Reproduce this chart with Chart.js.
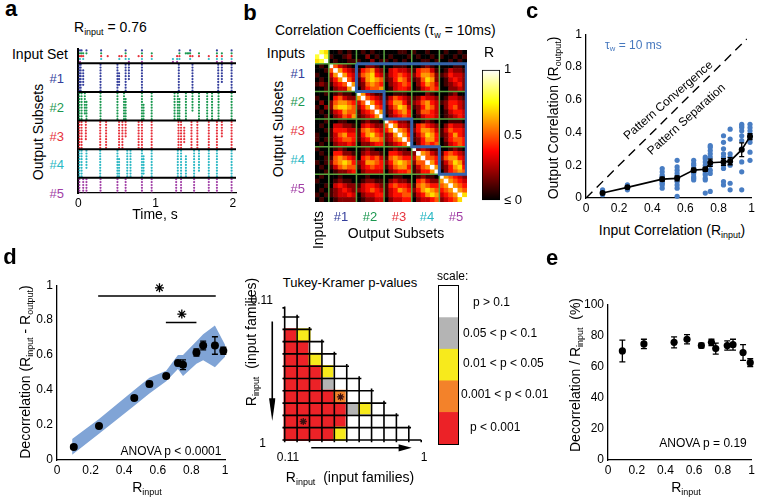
<!DOCTYPE html>
<html>
<head>
<meta charset="utf-8">
<script src="https://cdn.jsdelivr.net/npm/chart.js@4.4.1/dist/chart.umd.min.js"></script>
<style>
body { margin: 0; background: #fff; }
#fig { position: relative; width: 758px; height: 502px; overflow: hidden; background: #fff;
       font-family: "Liberation Sans", Arial, sans-serif; color: #000; }
canvas { position: absolute; }
.t { position: absolute; white-space: nowrap; line-height: 1; }
.t sub { font-size: 0.64em; position: relative; top: 0.3em; vertical-align: baseline; line-height: 0; }
</style>
</head>
<body>
<div id="fig"></div>
<script>
// ---------- data ----------
const rInput = [0.1, 0.25, 0.46, 0.55, 0.65, 0.72, 0.75, 0.83, 0.87, 0.94, 0.99];

// panel c
const rOutputMean = [0.03, 0.065, 0.115, 0.12, 0.17, 0.175, 0.215, 0.22, 0.225, 0.295, 0.375];
const rOutputSem = [0.008, 0.008, 0.012, 0.015, 0.012, 0.012, 0.022, 0.02, 0.022, 0.042, 0.018];
const rOutputSamples = [
   [0.02, 0.03, 0.04, 0.05],
   [0.05, 0.06, 0.07, 0.08],
   [0.06, 0.08, 0.09, 0.10, 0.11, 0.12, 0.13, 0.14, 0.16, 0.18],
   [0.01, 0.06, 0.08, 0.10, 0.12, 0.13, 0.15, 0.17, 0.19, 0.23],
   [0.11, 0.12, 0.13, 0.15, 0.16, 0.17, 0.18, 0.20, 0.21, 0.23],
   [0.03, 0.11, 0.12, 0.14, 0.15, 0.17, 0.18, 0.20, 0.22, 0.24, 0.25],
   [0.04, 0.15, 0.17, 0.20, 0.22, 0.25, 0.27, 0.29, 0.31, 0.32],
   [0.08, 0.10, 0.18, 0.20, 0.23, 0.25, 0.27, 0.30, 0.34, 0.38],
   [0.05, 0.09, 0.20, 0.22, 0.25, 0.27, 0.36, 0.42],
   [0.05, 0.16, 0.22, 0.30, 0.35, 0.38, 0.41, 0.43, 0.44, 0.45],
   [0.23, 0.28, 0.34, 0.36, 0.38, 0.39, 0.41, 0.43, 0.45]
];
const diagonalLine = [{ x: 0, y: 0 }, { x: 0.97, y: 0.97 }];

// panel d
const decorrMean = [0.075, 0.195, 0.355, 0.435, 0.48, 0.555, 0.545, 0.615, 0.655, 0.655, 0.625];
const decorrSem = [0.01, 0.008, 0.012, 0.015, 0.01, 0.015, 0.028, 0.02, 0.025, 0.05, 0.02];
const bandX = [0.09, 0.25, 0.46, 0.55, 0.65, 0.72, 0.75, 0.83, 0.87, 0.94, 1.0];
const bandUpper = [0.12, 0.235, 0.40, 0.47, 0.51, 0.60, 0.60, 0.68, 0.72, 0.77, 0.66];
const bandLower = [0.03, 0.15, 0.31, 0.38, 0.45, 0.52, 0.48, 0.55, 0.57, 0.53, 0.59];
const sigBars = [[0.245, 0.945, 0.938], [0.648, 0.83, 0.787]];
const sigStars = [[0.61, 0.985], [0.743, 0.835]];

// panel e
const normMean = [70, 74.5, 75.5, 77.5, 73.5, 75.5, 71.5, 73.5, 74, 69, 62.5];
const normSem = [7, 3, 3.5, 3, 1.5, 2, 3.5, 3, 3.5, 5, 2.5];

// panel a: spike columns [time s, first neuron, last neuron]
const spikeInputSet = [[0.021,0,4],[0.042,0,2],[0.063,1,3],[0.105,0,1],[0.295,0,3],[0.38,2,2],[0.53,2,3],[0.56,2,2],
   [0.612,0,3],[0.654,3,4],[0.78,2,2],[0.823,0,4],[0.95,1,3],[1.224,3,4],[1.278,2,4],[1.308,0,3],[1.39,1,1],[1.41,1,1],
   [1.43,1,1],[1.447,0,3],[1.477,2,2],[1.561,1,2],[1.688,2,3],[1.793,0,4],[1.857,1,4],[1.983,0,4]];
const spikeSubset1 = [[0.013,0,9],[0.03,0,9],[0.063,2,7],[0.287,0,9],[0.506,0,9],[0.527,3,7],[0.612,0,9],[0.654,0,5],
   [0.823,0,9],[1.30,0,9],[1.477,0,9],[1.81,0,9],[1.857,0,6],[1.983,0,9]];
const spikeSubset2 = [[0.013,0,9],[0.042,0,9],[0.084,0,7],[0.105,3,9],[0.287,0,9],[0.506,0,9],[0.591,0,9],[0.612,2,9],
   [0.823,0,9],[0.844,4,9],[0.949,0,9],[1.245,0,9],[1.287,0,9],[1.308,2,9],[1.392,0,9],[1.477,0,6],[1.561,0,9],
   [1.667,0,9],[1.73,0,9],[1.814,0,9],[1.983,0,9]];
const spikeSubset3 = [[0.013,0,9],[0.042,0,9],[0.097,0,6],[0.283,0,9],[0.359,0,9],[0.527,0,9],[0.57,0,9],[0.612,0,5],
   [0.78,0,9],[0.823,0,9],[0.949,0,9],[1.296,0,9],[1.329,0,9],[1.37,2,7],[1.464,0,9],[1.54,0,9],[1.688,0,9],
   [1.793,0,9],[1.857,0,5],[1.983,0,9]];
const spikeSubset4 = [[0.013,0,9],[0.042,0,9],[0.105,0,6],[0.283,0,9],[0.506,0,9],[0.527,3,9],[0.633,0,9],[0.675,0,9],
   [0.823,0,9],[0.844,2,8],[0.949,0,9],[1.287,0,9],[1.329,0,9],[1.392,2,9],[1.498,0,9],[1.561,0,7],[1.688,0,9],
   [1.793,0,9],[1.983,0,9]];
const spikeSubset5 = [[0.013,0,5],[0.063,0,5],[0.105,0,5],[0.287,0,5],[0.506,0,5],[0.612,0,5],[0.823,0,5],[0.949,0,5],
   [1.266,0,5],[1.329,0,5],[1.498,0,5],[1.688,0,5],[1.793,0,5],[1.983,0,5]];
const subsetColors = ['#343e9c', '#1b9850', '#e6313b', '#2bb8c4', '#a13ea6'];

// panel b: correlation blocks, one digit = R x 10, 'a' = 1
const heatInputBlock = ['a87', '8a8', '78a'];
const heatInputVsSubsets = [
   ['001010', '100120', '010011'],
   ['010100', '002010', '100201'],
   ['000110', '010001', '101010'],
   ['100100', '010010', '001101'],
   ['010010', '100101', '001010']
];
const heatSubsetDiag = [
   ['a53210', '5a6432', '36a643', '246a53', '1345a6', '02336a'],
   ['a63211', '6a5432', '35a643', '246a54', '1345a6', '12346a'],
   ['a54221', '5a6332', '46a653', '236a64', '2356a5', '12345a'],
   ['a23211', '2a6532', '36a554', '255a64', '1356a6', '12446a'],
   ['a65432', '6a6543', '56a654', '456a65', '3456a7', '23457a']
];
const heatSubsetCross = {
   '1-2': ['002210', '145632', '256743', '136765', '125654', '024556'],
   '1-3': ['001110', '034332', '134543', '124653', '023454', '013443'],
   '1-4': ['001210', '145531', '246652', '125762', '024653', '013454'],
   '1-5': ['000110', '013221', '124332', '013432', '012342', '002232'],
   '2-3': ['001110', '135432', '246642', '135763', '124564', '023454'],
   '2-4': ['000210', '124332', '235643', '124653', '025543', '013443'],
   '2-5': ['001200', '013321', '124432', '024532', '013443', '012343'],
   '3-4': ['001210', '145432', '246653', '135764', '124664', '024545'],
   '3-5': ['001110', '024332', '135443', '124643', '024554', '013454'],
   '4-5': ['001210', '145432', '256643', '135763', '124674', '024565']
};
const colorbarTicks = [0, 0.5, 1];
const colorbarLabels = ['≤ 0', '0.5', '1'];

// Tukey-Kramer matrix: W p>0.1, G 0.05-0.1, Y 0.01-0.05, O 0.001-0.01, R p<0.001
const tukeyRows = ['W', 'RY', 'RRW', 'RRYW', 'RRRYW', 'RRRGWW', 'RRRROWW', 'RRRRRGYW', 'RRRRRWWWW', 'RRRRYWWWWW'];
const tukeyStars = [[6, 4], [8, 1]];
const tukeyLegend = ['p > 0.1', '0.05 < p < 0.1', '0.01 < p < 0.05', '0.001 < p < 0.01', 'p < 0.001'];
const tukeyColors = { W: '#ffffff', G: '#b4b4b4', Y: '#f7ea1c', O: '#f3822a', R: '#ec2227' };

// ---------- helpers ----------
Chart.defaults.font.family = '"Liberation Sans", Arial, sans-serif';
Chart.defaults.font.size = 12;
Chart.defaults.color = '#000';
Chart.defaults.animation = false;
Chart.defaults.events = [];
Chart.defaults.plugins.legend.display = false;
Chart.defaults.plugins.tooltip.enabled = false;

const fig = document.getElementById('fig');

function label(html, x, y, size, o = {}) {
   const d = document.createElement('div');
   d.className = 't';
   d.innerHTML = html;
   d.style.left = x + 'px';
   d.style.top = y + 'px';
   d.style.fontSize = size + 'px';
   if (o.color) d.style.color = o.color;
   if (o.bold) d.style.fontWeight = 'bold';
   const ax = o.align === 'left' ? '0%' : o.align === 'right' ? '-100%' : '-50%';
   d.style.transform = 'translate(' + ax + ',-50%)' + (o.rot ? ' rotate(' + o.rot + 'deg)' : '');
   fig.appendChild(d);
}

function place(L, T, R, B, ml, mt, mr, mb) {
   const left = Math.round(L - ml), top = Math.round(T - mt);
   const w = Math.round(R + mr) - left, h = Math.round(B + mb) - top;
   const c = document.createElement('canvas');
   c.width = w; c.height = h;
   c.style.cssText = 'left:' + left + 'px;top:' + top + 'px;width:' + w + 'px;height:' + h + 'px';
   fig.appendChild(c);
   return c;
}

const tickText = v => String(Math.round(v * 100) / 100);

function axisX(min, max, step, h) {
   return {
      type: 'linear', min: min, max: max,
      ticks: { stepSize: step, padding: 3, maxRotation: 0, autoSkip: false, includeBounds: false, callback: tickText },
      grid: { display: false, drawTicks: false },
      border: { color: '#000', width: 1.3 },
      afterFit: s => { s.height = h; }
   };
}

function axisY(min, max, step, w) {
   return {
      type: 'linear', min: min, max: max,
      ticks: { stepSize: step, padding: 4, autoSkip: false, includeBounds: false, callback: tickText },
      grid: { display: false, drawTicks: false },
      border: { color: '#000', width: 1.3 },
      afterFit: s => { s.width = w; }
   };
}

function seg(arr, x1, y1, x2, y2) {
   arr.push({ x: x1, y: y1 }, { x: x2, y: y2 }, { x: x2, y: null });
}

const errorBars = {
   id: 'errorBars',
   afterDatasetsDraw(chart) {
      const ctx = chart.ctx, sx = chart.scales.x, sy = chart.scales.y;
      chart.data.datasets.forEach(ds => {
         if (!ds.errors) return;
         ctx.save();
         ctx.strokeStyle = '#000';
         ctx.lineWidth = 1.3;
         ds.data.forEach((p, k) => {
            const px = sx.getPixelForValue(p.x);
            const lo = sy.getPixelForValue(p.y - ds.errors[k]);
            const hi = sy.getPixelForValue(p.y + ds.errors[k]);
            const cw = ds.capWidth || 2.5;
            ctx.beginPath();
            ctx.moveTo(px, lo); ctx.lineTo(px, hi);
            ctx.moveTo(px - cw, lo); ctx.lineTo(px + cw, lo);
            ctx.moveTo(px - cw, hi); ctx.lineTo(px + cw, hi);
            ctx.stroke();
         });
         ctx.restore();
      });
   }
};

function hot(v) {
   v = Math.max(0, Math.min(1, v));
   const r = Math.min(1, v / 0.375);
   const g = Math.max(0, Math.min(1, (v - 0.375) / 0.375));
   const b = Math.max(0, (v - 0.75) / 0.25);
   return 'rgb(' + Math.round(r * 255) + ',' + Math.round(g * 255) + ',' + Math.round(b * 255) + ')';
}

// ---------- panel a: raster ----------
const groupOffsets = [0, 5, 15, 25, 35, 45];

function spikePoints(cols, offset) {
   const pts = [];
   cols.forEach(([t, a, b]) => {
      for (let n = a; n <= b; n++) pts.push({ x: t, y: offset + n + 0.5 });
   });
   return pts;
}

const rasterSeparators = [];
[5, 15, 25, 35, 45].forEach(y => seg(rasterSeparators, 0, y, 2.04, y));

const subsets = [spikeSubset1, spikeSubset2, spikeSubset3, spikeSubset4, spikeSubset5];

new Chart(place(75, 46.7, 236, 192.5, 3, 2, 4, 18), {
   type: 'scatter',
   data: {
      datasets: [
         { data: rasterSeparators, showLine: true, borderColor: '#000', borderWidth: 2, pointRadius: 0 },
         {
            data: spikePoints(spikeInputSet, 0), pointRadius: 1.1, borderWidth: 0,
            backgroundColor: ctx => subsetColors[Math.floor(ctx.raw ? ctx.raw.y : 0)]
         }
      ].concat(subsets.map((s, i) => ({
         data: spikePoints(s, groupOffsets[i + 1]), pointRadius: 1.1, borderWidth: 0, backgroundColor: subsetColors[i]
      })))
   },
   options: {
      responsive: false,
      layout: { padding: { top: 2, right: 4 } },
      scales: {
         x: axisX(0, 2.04, 1, 18),
         y: Object.assign(axisY(0, 50.3, 10, 3), { reverse: true, ticks: { display: false }, border: { color: '#000', width: 2 } })
      }
   }
});

label('R<sub>input</sub> = 0.76', 74, 27, 14, { align: 'left' });
label('Input Set', 68, 53.5, 14, { align: 'right' });
[78, 107, 136, 164, 193].forEach((y, i) => label('#' + (i + 1), 64, y, 13, { align: 'right', color: subsetColors[i] }));
label('Output Subsets', 38, 132, 14, { rot: -90 });
label('Time, s', 155, 214, 14);

// ---------- panel b: correlation matrix ----------
const N = 33;
const M = [];
for (let i = 0; i < N; i++) M.push(new Array(N).fill(0));
const val = c => (c === 'a' ? 1 : Number(c) / 10);
const blockStart = k => 3 + 6 * (k - 1);

function putBlock(r0, c0, rows, mirror) {
   rows.forEach((row, i) => row.split('').forEach((c, j) => {
      M[r0 + i][c0 + j] = val(c);
      if (mirror) M[c0 + j][r0 + i] = val(c);
   }));
}

putBlock(0, 0, heatInputBlock, false);
for (let k = 1; k <= 5; k++) {
   putBlock(0, blockStart(k), heatInputVsSubsets[k - 1], true);
   putBlock(blockStart(k), blockStart(k), heatSubsetDiag[k - 1], false);
   for (let j = k + 1; j <= 5; j++) putBlock(blockStart(k), blockStart(j), heatSubsetCross[k + '-' + j], true);
}

const heatCells = [], heatColors = [];
for (let i = 0; i < N; i++)
   for (let j = 0; j < N; j++) {
      heatCells.push({ x: j + 0.5, y: i + 0.5 });
      heatColors.push(hot(M[i][j]));
   }

const greenLines = [];
[3, 9, 15, 21, 27].forEach(v => { seg(greenLines, v, 0, v, N); seg(greenLines, 0, v, N, v); });
const blueStair = [[9, 3], [32.85, 3], [32.85, 27], [27, 27], [27, 21], [21, 21], [21, 15], [15, 15], [15, 9], [9, 9], [9, 3]]
   .map(([x, y]) => ({ x, y }));

new Chart(place(311, 46, 471, 206, 0, 0, 0, 0), {
   type: 'scatter',
   data: {
      datasets: [
         { data: blueStair, showLine: true, borderColor: 'rgb(52,100,172)', borderWidth: 3, pointRadius: 0 },
         { data: greenLines, showLine: true, borderColor: 'rgb(90,165,64)', borderWidth: 1.5, pointRadius: 0 },
         { data: heatCells, pointStyle: 'rect', pointRadius: 160 / N / Math.SQRT2 * 1.06, backgroundColor: heatColors, borderWidth: 0 }
      ]
   },
   options: {
      responsive: false,
      scales: {
         x: { type: 'linear', min: 0, max: N, display: false },
         y: { type: 'linear', min: 0, max: N, reverse: true, display: false }
      }
   }
});

// colour bar
new Chart(place(482, 65, 500, 205, 1, 7, 30, 7), {
   type: 'bar',
   data: {
      labels: ['R'],
      datasets: [{
         data: [1], barPercentage: 1, categoryPercentage: 1, borderColor: '#000', borderWidth: 1.2, borderSkipped: false,
         backgroundColor: ctx => {
            const a = ctx.chart.chartArea;
            if (!a) return '#000';
            const g = ctx.chart.ctx.createLinearGradient(0, a.bottom, 0, a.top);
            [0, 0.2, 0.375, 0.55, 0.75, 0.88, 1].forEach(v => g.addColorStop(v, hot(v)));
            return g;
         }
      }]
   },
   options: {
      responsive: false,
      layout: { padding: { top: 7, bottom: 7, left: 1 } },
      scales: {
         x: { display: false },
         y: {
            position: 'right', min: 0, max: 1,
            grid: { display: false, drawTicks: false }, border: { display: false },
            afterBuildTicks: s => { s.ticks = colorbarTicks.map(v => ({ value: v })); },
            ticks: { padding: 4, font: { size: 13 }, callback: v => colorbarLabels[colorbarTicks.indexOf(v)] },
            afterFit: s => { s.width = 30; }
         }
      }
   }
});

label('Correlation Coefficients (τ<sub>w</sub> = 10ms)', 275, 30, 14, { align: 'left' });
label('Inputs', 305, 52.7, 14, { align: 'right' });
[73, 101, 130, 159, 188].forEach((y, i) => label('#' + (i + 1), 305, y, 13, { align: 'right', color: subsetColors[i] }));
label('Output Subsets', 278, 129, 14, { rot: -90 });
label('Inputs', 318, 230, 14, { rot: -90 });
[341, 370, 399, 427, 456].forEach((x, i) => label('#' + (i + 1), x, 216, 13, { color: subsetColors[i] }));
label('Output Subsets', 396, 233, 14);
label('R', 489, 52, 14);

// ---------- panel c ----------
const samplePts = [];
rOutputSamples.forEach((list, i) => list.forEach(v => samplePts.push({ x: rInput[i], y: v })));

new Chart(place(586, 32, 753, 198, 30, 9, 5, 20), {
   type: 'scatter',
   data: {
      datasets: [
         {
            data: rInput.map((x, i) => ({ x, y: rOutputMean[i] })), errors: rOutputSem, capWidth: 2.5,
            showLine: true, borderColor: '#000', borderWidth: 1.6, pointRadius: 3, pointBackgroundColor: '#000',
            pointBorderWidth: 0, clip: false
         },
         { data: diagonalLine, showLine: true, borderColor: '#000', borderWidth: 1.4, borderDash: [9, 6], pointRadius: 0 },
         { data: samplePts, pointRadius: 2.6, backgroundColor: 'rgb(72,125,195)', borderWidth: 0, clip: false }
      ]
   },
   options: {
      responsive: false,
      layout: { padding: { top: 9, right: 5 } },
      scales: { x: axisX(0, 1, 0.2, 20), y: axisY(0, 1, 0.2, 30) }
   },
   plugins: [errorBars]
});

label('τ<sub>w</sub> = 10 ms', 605, 45, 12, { align: 'left', color: 'rgb(70,120,190)' });
label('Pattern Convergence', 668, 100, 12, { rot: -41 });
label('Pattern Separation', 686, 119, 12, { rot: -42 });
label('Output Correlation (R<sub>output</sub>)', 553, 118, 14, { rot: -90 });
label('Input Correlation (R<sub>input</sub>)', 672, 230, 14);

// ---------- panel d ----------
const sigLines = [];
sigBars.forEach(([a, b, y]) => seg(sigLines, a, y, b, y));

new Chart(place(57.3, 283, 225, 460, 28, 9, 10, 20), {
   type: 'scatter',
   data: {
      datasets: [
         {
            data: rInput.map((x, i) => ({ x, y: decorrMean[i] })), errors: decorrSem, capWidth: 3,
            pointRadius: 4, backgroundColor: '#000', borderWidth: 0, clip: false
         },
         { data: sigLines, showLine: true, borderColor: '#000', borderWidth: 1.5, pointRadius: 0 },
         {
            data: sigStars.map(([x, y]) => ({ x, y })), pointStyle: 'star', pointRadius: 4.5,
            borderColor: '#000', borderWidth: 1.3, clip: false
         },
         {
            data: bandX.map((x, i) => ({ x, y: bandUpper[i] })), showLine: true, borderWidth: 0, pointRadius: 0,
            fill: '+1', backgroundColor: 'rgb(128,164,214)'
         },
         { data: bandX.map((x, i) => ({ x, y: bandLower[i] })), showLine: true, borderWidth: 0, pointRadius: 0 }
      ]
   },
   options: {
      responsive: false,
      layout: { padding: { top: 9, right: 10 } },
      scales: { x: axisX(0, 1, 0.2, 20), y: axisY(0, 1, 0.2, 28) }
   },
   plugins: [errorBars]
});

label('Decorrelation (R<sub>input</sub> - R<sub>output</sub>)', 25, 372, 14, { rot: -90 });
label('R<sub>input</sub>', 147, 487, 14);
label('ANOVA p &lt; 0.0001', 171, 451, 12);

// ---------- Tukey-Kramer matrix ----------
const tCells = [], tCellColors = [];
tukeyRows.forEach((row, i) => row.split('').forEach((c, j) => {
   tCells.push({ x: j + 0.5, y: i + 0.5 });
   tCellColors.push(tukeyColors[c]);
}));

const tGrid = [];
const ov = 0.18;
for (let k = 0; k <= 9; k++) seg(tGrid, -ov, k, k + 1 + ov, k);
seg(tGrid, -ov, 10, 11, 10);
seg(tGrid, 0, -0.85, 0, 10 + ov);
seg(tGrid, -ov, -0.75, 0, -0.75);
for (let c = 1; c <= 10; c++) seg(tGrid, c, c - 1 - ov, c, 10 + ov);
seg(tGrid, 11, 10, 11, 10 + ov);
seg(tGrid, -1.0, 0.36, -1.0, 6.7);
seg(tGrid, 2.14, 10.64, 9.3, 10.64);

const arrowDownA = [{ x: -1.26, y: 6.6 }, { x: -1.0, y: 8.46 }, { x: -0.74, y: 6.6 }];
const arrowDownB = [{ x: -1.26, y: 6.6 }, { x: -0.74, y: 6.6 }];
const arrowRightA = [{ x: 9.16, y: 10.35 }, { x: 10.24, y: 10.64 }];
const arrowRightB = [{ x: 9.16, y: 10.93 }, { x: 10.24, y: 10.64 }];

new Chart(place(276.7 - 1.4 * 14, 308.3 - 1.2 * 14, 276.7 + 11.2 * 14, 308.3 + 11.2 * 14, 0, 0, 0, 0), {
   type: 'scatter',
   data: {
      datasets: [
         {
            data: tukeyStars.map(([r, c]) => ({ x: c + 0.5, y: r + 0.5 })), pointStyle: 'star', pointRadius: 3.6,
            borderColor: '#3a1010', borderWidth: 1.3
         },
         { data: tGrid, showLine: true, borderColor: '#000', borderWidth: 1.6, pointRadius: 0 },
         { data: tCells, pointStyle: 'rect', pointRadius: 14 / Math.SQRT2 * 1.04, backgroundColor: tCellColors, borderWidth: 0 },
         { data: arrowDownA, showLine: true, borderWidth: 0, pointRadius: 0, fill: '+1', backgroundColor: '#000' },
         { data: arrowDownB, showLine: true, borderWidth: 0, pointRadius: 0 },
         { data: arrowRightA, showLine: true, borderWidth: 0, pointRadius: 0, fill: '+1', backgroundColor: '#000' },
         { data: arrowRightB, showLine: true, borderWidth: 0, pointRadius: 0 }
      ]
   },
   options: {
      responsive: false,
      scales: {
         x: { type: 'linear', min: -1.4, max: 11.2, display: false },
         y: { type: 'linear', min: -1.2, max: 11.2, reverse: true, display: false }
      }
   }
});

// legend bar
const legendCanvas = place(439, 285.7, 458.3, 444, 0, 0, 0, 0);
legendCanvas.style.outline = '1.5px solid #000';
new Chart(legendCanvas, {
   type: 'bar',
   data: {
      labels: ['scale'],
      datasets: ['R', 'O', 'Y', 'G', 'W'].map(c => ({
         data: [1], backgroundColor: tukeyColors[c], borderWidth: 0, barPercentage: 1, categoryPercentage: 1
      }))
   },
   options: {
      responsive: false,
      scales: {
         x: { stacked: true, display: false },
         y: { stacked: true, min: 0, max: 5, display: false }
      }
   }
});

label('Tukey-Kramer p-values', 350, 282, 13);
label('0.11', 273, 300, 12, { align: 'right' });
label('1', 266, 443, 12, { align: 'right' });
label('0.11', 288, 457, 12);
label('1', 424, 457, 12);
label('R<sub>input</sub>&nbsp;&nbsp;(input families)', 350, 477, 14);
label('R<sub>input</sub>&nbsp;&nbsp;(input families)', 251, 342, 14, { rot: -90 });
label('scale:', 437, 276, 12, { align: 'left' });
[[473, 302], [463, 333], [463, 363], [461, 394], [470, 427]].forEach(([x, y], i) =>
   label(tukeyLegend[i].replace(/</g, '&lt;').replace(/>/g, '&gt;'), x, y, 12, { align: 'left' }));

// ---------- panel e ----------
new Chart(place(607.5, 302, 754, 460, 28, 9, 4, 20), {
   type: 'scatter',
   data: {
      datasets: [{
         data: rInput.map((x, i) => ({ x, y: normMean[i] })), errors: normSem, capWidth: 3,
         pointRadius: 3.6, backgroundColor: '#000', borderWidth: 0, clip: false
      }]
   },
   options: {
      responsive: false,
      layout: { padding: { top: 9, right: 4 } },
      scales: { x: axisX(0, 1, 0.2, 20), y: axisY(0, 100, 20, 28) }
   },
   plugins: [errorBars]
});

label('Decorrelation / R<sub>input</sub>&nbsp;&nbsp;(%)', 575, 375, 14, { rot: -90 });
label('R<sub>input</sub>', 686, 487, 14);
label('ANOVA p = 0.19', 703, 443, 12);

// panel letters
label('a', 11, 9, 22, { bold: true });
label('b', 250, 13, 22, { bold: true });
label('c', 532, 10.5, 22, { bold: true });
label('d', 10, 257, 22, { bold: true });
label('e', 552, 258, 22, { bold: true });
</script>
</body>
</html>
